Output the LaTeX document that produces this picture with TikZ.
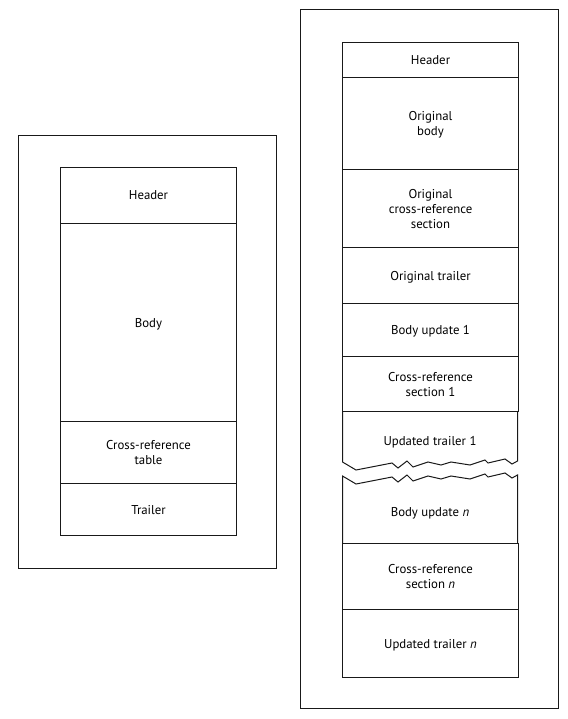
\documentclass[tikz,border=0pt]{standalone}
\usepackage{fontspec}
\setmainfont{PT Sans}
\begin{document}
\begin{tikzpicture}[x=1pt,y=-1pt,
  frame/.style={draw=black!90,line width=1pt},
  seg/.style={draw=black!90,line width=1pt,minimum width=176pt,inner sep=0pt,
    font=\fontsize{12.8}{15}\selectfont,align=center,anchor=north west,text depth=0pt},
  lbl/.style={font=\fontsize{12.8}{15}\selectfont,align=center,inner sep=0pt,text depth=0pt}]
\useasboundingbox (0,0) rectangle (567,719);
% left file
\draw[frame] (18.5,135.5) rectangle (276.5,568.5);
\node[seg,minimum height=56pt] (lhead) at (60,167) {Header};
\node[seg,minimum height=198pt] (lbody) at (60,223) {Body};
\node[seg,minimum height=62pt] (lxref) at (60,421) {Cross-reference\\table};
\node[seg,minimum height=52pt] (ltrail) at (60,483) {Trailer};
% right file
\draw[frame] (300.5,9.5) rectangle (558.5,708.5);
\node[seg,minimum height=35pt] (rhead) at (342,42) {Header};
\node[seg,minimum height=92pt] (rbody) at (342,77) {Original\\body};
\node[seg,minimum height=78pt] (rxref) at (342,169) {Original\\cross-reference\\section};
\node[seg,minimum height=56pt] (rtrail) at (342,247) {Original trailer};
\node[seg,minimum height=53pt] (bu1) at (342,303) {Body update 1};
\node[seg,minimum height=55pt] (xs1) at (342,356) {Cross-reference\\section 1};
% updated trailer 1 with torn bottom
\draw[frame] (342.5,411) -- (342.5,462) -- (356,470) -- (392,463) -- (398,468) -- (407,461)
  -- (413,467) -- (428,462) -- (441,465) -- (451,462) -- (470,465) -- (485,460)
  -- (488,463) -- (505,459) -- (512,464) -- (517.5,461) -- (517.5,411);
\node[lbl] (ut1) at (430,441) {Updated trailer 1};
% body update n with torn top
\draw[frame] (342.5,543) -- (342.5,476) -- (356,484) -- (392,477) -- (398,482) -- (407,475)
  -- (413,481) -- (428,476) -- (441,479) -- (451,476) -- (470,479) -- (485,474)
  -- (488,477) -- (505,473) -- (512,478) -- (517.5,475) -- (517.5,543);
\node[lbl] (bun) at (430,512) {Body update \textit{n}};
\node[seg,minimum height=66pt] (xsn) at (342,543) {Cross-reference\\section \textit{n}};
\node[seg,minimum height=68pt] (utn) at (342,609) {Updated trailer \textit{n}};
\end{tikzpicture}
\end{document}
